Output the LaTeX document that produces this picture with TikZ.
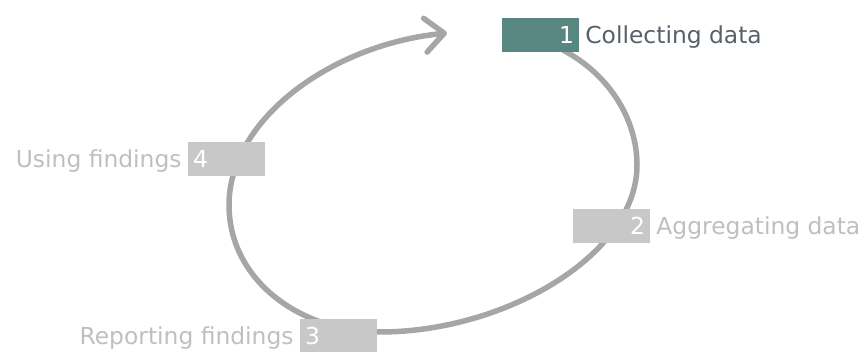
\documentclass[tikz,border=0pt]{standalone}
\usepackage{fontspec}
\setmainfont{DejaVu Sans}
\usetikzlibrary{arrows.meta,positioning,backgrounds}
\definecolor{cycleTeal}{RGB}{88,134,128}
\definecolor{cycleGrey}{RGB}{200,200,200}
\definecolor{cycleLine}{RGB}{166,166,166}
\definecolor{cycleText}{RGB}{191,191,191}
\definecolor{cycleDark}{RGB}{87,97,108}
\tikzset{
  stagebox/.style={fill=cycleGrey,text=white,minimum width=77pt,minimum height=34pt,text width=67pt,text height=17pt,text depth=0pt,inner xsep=5pt,inner ysep=0pt},
  stagelabel/.style={text=cycleText,text height=17pt,text depth=0pt,inner xsep=6pt,inner ysep=0pt},
  cycleline/.style={draw=cycleLine,line width=5.5pt,-{Straight Barb[length=19pt,width=34pt,round]}}
}

\begin{document}
\begin{tikzpicture}[x=1pt,y=-1pt,font=\fontsize{23.4}{28}\selectfont]
\useasboundingbox (0,0) rectangle (868,352);
% stages
\node[stagebox,fill=cycleTeal,align=right] (s1) at (540.5,35) {1};
\node[stagebox,align=right] (s2) at (611.5,226.5) {2};
\node[stagebox,align=left] (s3) at (338.5,336) {3};
\node[stagebox,align=left] (s4) at (226.5,159) {4};
\node[stagelabel,text=cycleDark,right=0pt of s1] (l1) {Collecting data};
\node[stagelabel,right=0pt of s2] (l2) {Aggregating data};
\node[stagelabel,left=0pt of s3] (l3) {Reporting findings};
\node[stagelabel,left=0pt of s4] (l4) {Using findings};
% loop behind the boxes
\coordinate (east) at (637,165);
\coordinate (south) at (380,332);
\coordinate (west) at (229,205);
\coordinate (tip) at (447,33);
\begin{scope}[on background layer]
\draw[cycleline] ([xshift=-16pt,yshift=2pt]s1.south east) .. controls (610,75) and (637,120) .. (east)
  .. controls (637,255) and (505,332) .. (south)
  .. controls (300,332) and (229,280) .. (west)
  .. controls (229,120) and (330,45) .. (tip);
\end{scope}
\end{tikzpicture}
\end{document}
